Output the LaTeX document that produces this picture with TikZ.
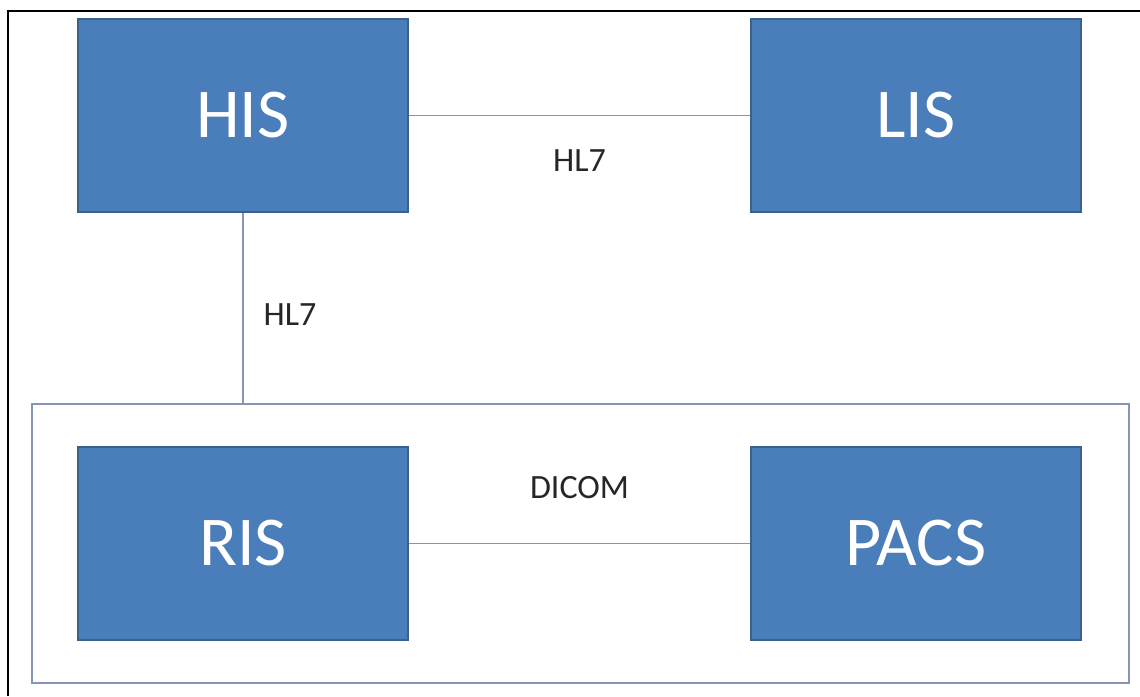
\documentclass[tikz,border=0pt]{standalone}
\usepackage{fontspec}
\setmainfont{Carlito}
\usepackage{xcolor}
\usepackage{tikz}
\usetikzlibrary{positioning}
\usetikzlibrary{calc}
\definecolor{boxblue}{HTML}{4A7EBB}
\definecolor{boxedge}{HTML}{3A6190}
\definecolor{linkgray}{HTML}{8496B4}
\tikzstyle{sysbox}=[rectangle,fill=boxblue,draw=boxedge,line width=1pt,text=white,font=\fontsize{35}{42}\selectfont,minimum width=165pt,minimum height=96.5pt,inner sep=0pt]
\tikzstyle{groupbox}=[rectangle,draw=linkgray,line width=1pt,minimum width=548.5pt,minimum height=139.5pt,inner sep=0pt]
\tikzstyle{link} = [draw,linkgray,line width=0.8pt]
\tikzstyle{weight} = [font=\fontsize{17}{20}\selectfont,text=black!85]

\begin{document}
\begin{tikzpicture}[x=0.5pt,y=-0.5pt]

 \useasboundingbox (0,0) rectangle (1140,696);

 % outer frame (only top and left edges are visible)
 \coordinate (fbl) at (8,696);
 \coordinate (ftl) at (8,11);
 \coordinate (ftr) at (1140,11);
 \draw[line width=1.2pt] (fbl) -- (ftl) -- (ftr);

 % group round RIS and PACS
 \node[groupbox] (grp) at (580.5,543.5) {};

 %systems
   \foreach \x/\y/\name/\label in {243/115.5/HIS/HIS, 916/115.5/LIS/LIS, 243/543.5/RIS/RIS, 916/543.5/PACS/PACS}
          \node[sysbox] (\name) at (\x,\y) {\label};

 \coordinate (grptop) at (HIS.south |- grp.north);

 %links
  \foreach \source/ \dest /\weight/\sx/\sy in {HIS/LIS/HL7/0/-22.5, HIS/grptop/HL7/23.5/-3.5, RIS/PACS/DICOM/0/28}
         \path[link] (\source) -- node[weight,xshift=\sx pt,yshift=\sy pt] {\weight} (\dest);

\end{tikzpicture}
\end{document}
